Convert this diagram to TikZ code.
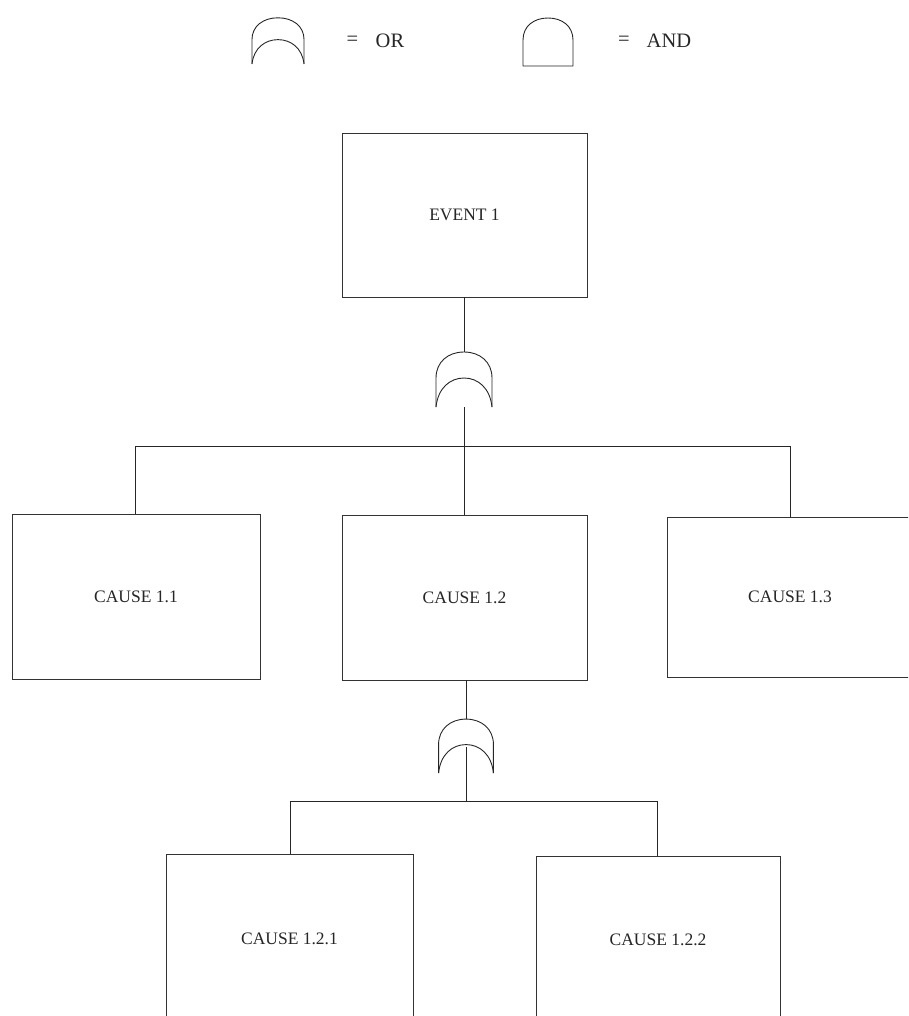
\documentclass[tikz,border=0pt]{standalone}
\usepackage{fontspec}
\setmainfont{Liberation Serif}
\begin{document}
\begin{tikzpicture}[x=1pt,y=-1pt,
  box/.style={draw=black!80,line width=0.8pt,inner sep=0pt,text=black!85,
    font=\fontsize{17.5}{20}\selectfont},
  conn/.style={draw=black!85,line width=0.9pt},
  gate/.style={draw=black!85,line width=0.9pt},
  lbl/.style={text=black!85,inner sep=0pt,font=\fontsize{20.5}{24}\selectfont},
  orgate/.pic={
    \draw[gate] (-28,0) -- (-28,-29) .. controls (-28,-45) and (-16,-55) .. (0,-55)
      .. controls (16,-55) and (28,-45) .. (28,-29) -- (28,0);
    \draw[gate] (-28,0) .. controls (-26,-19) and (-14,-29) .. (0,-29)
      .. controls (14,-29) and (26,-19) .. (28,0);
  },
  andgate/.pic={
    \draw[gate] (-25,0) -- (-25,-26) .. controls (-25,-40) and (-14,-48) .. (0,-48)
      .. controls (14,-48) and (25,-40) .. (25,-26) -- (25,0) -- cycle;
  }]
\useasboundingbox (0,0) rectangle (908,1016);
\begin{scope}
\clip (0,0) rectangle (908,1016);

% legend
\pic[xscale=0.93,yscale=0.84] at (278,64) {orgate};
\node[lbl] (eqor) at (352.5,41) {=};
\node[lbl,anchor=west] (orlbl) at (375.5,41) {OR};
\pic at (548,66) {andgate};
\node[lbl] (eqand) at (624,41) {=};
\node[lbl,anchor=west] (andlbl) at (646.5,41) {AND};

% boxes
\node[box,minimum width=245pt,minimum height=164pt] (ev1) at (464.5,215) {EVENT 1};
\node[box,minimum width=248pt,minimum height=165pt] (c11) at (136,596.5) {CAUSE 1.1};
\node[box,minimum width=245pt,minimum height=165pt] (c12) at (464.5,597.5) {CAUSE 1.2};
\node[box,minimum width=246pt,minimum height=160pt] (c13) at (790,597) {CAUSE 1.3};
\node[box,minimum width=247pt,minimum height=170pt] (c121) at (289.5,939) {CAUSE 1.2.1};
\node[box,minimum width=244pt,minimum height=168pt] (c122) at (658,940) {CAUSE 1.2.2};

% gate 1
\coordinate (g1b) at (464,407);
\coordinate (g1t) at (464,352);
\pic at (g1b) {orgate};
\coordinate (j1) at (464,446);
\draw[conn] (ev1.south -| g1t) -- (g1t);
\draw[conn] (g1b) -- (j1);
\draw[conn] (c11.north -| 135,0) |- (j1 -| 790,0) -- (c13.north -| 790,0);
\draw[conn] (j1) -- (j1 |- c12.north);

% gate 2
\coordinate (g2b) at (466,773);
\coordinate (g2t) at (466,719);
\coordinate (g2i) at (466,747);
\pic[xscale=0.98,yscale=0.98] at (g2b) {orgate};
\coordinate (j2) at (466,801);
\draw[conn] (c12.south -| g2t) -- (g2t);
\draw[conn] (g2i) -- (j2);
\draw[conn] (c121.north -| 290,0) |- (j2 -| 657,0) -- (c122.north -| 657,0);
\end{scope}
\end{tikzpicture}
\end{document}
